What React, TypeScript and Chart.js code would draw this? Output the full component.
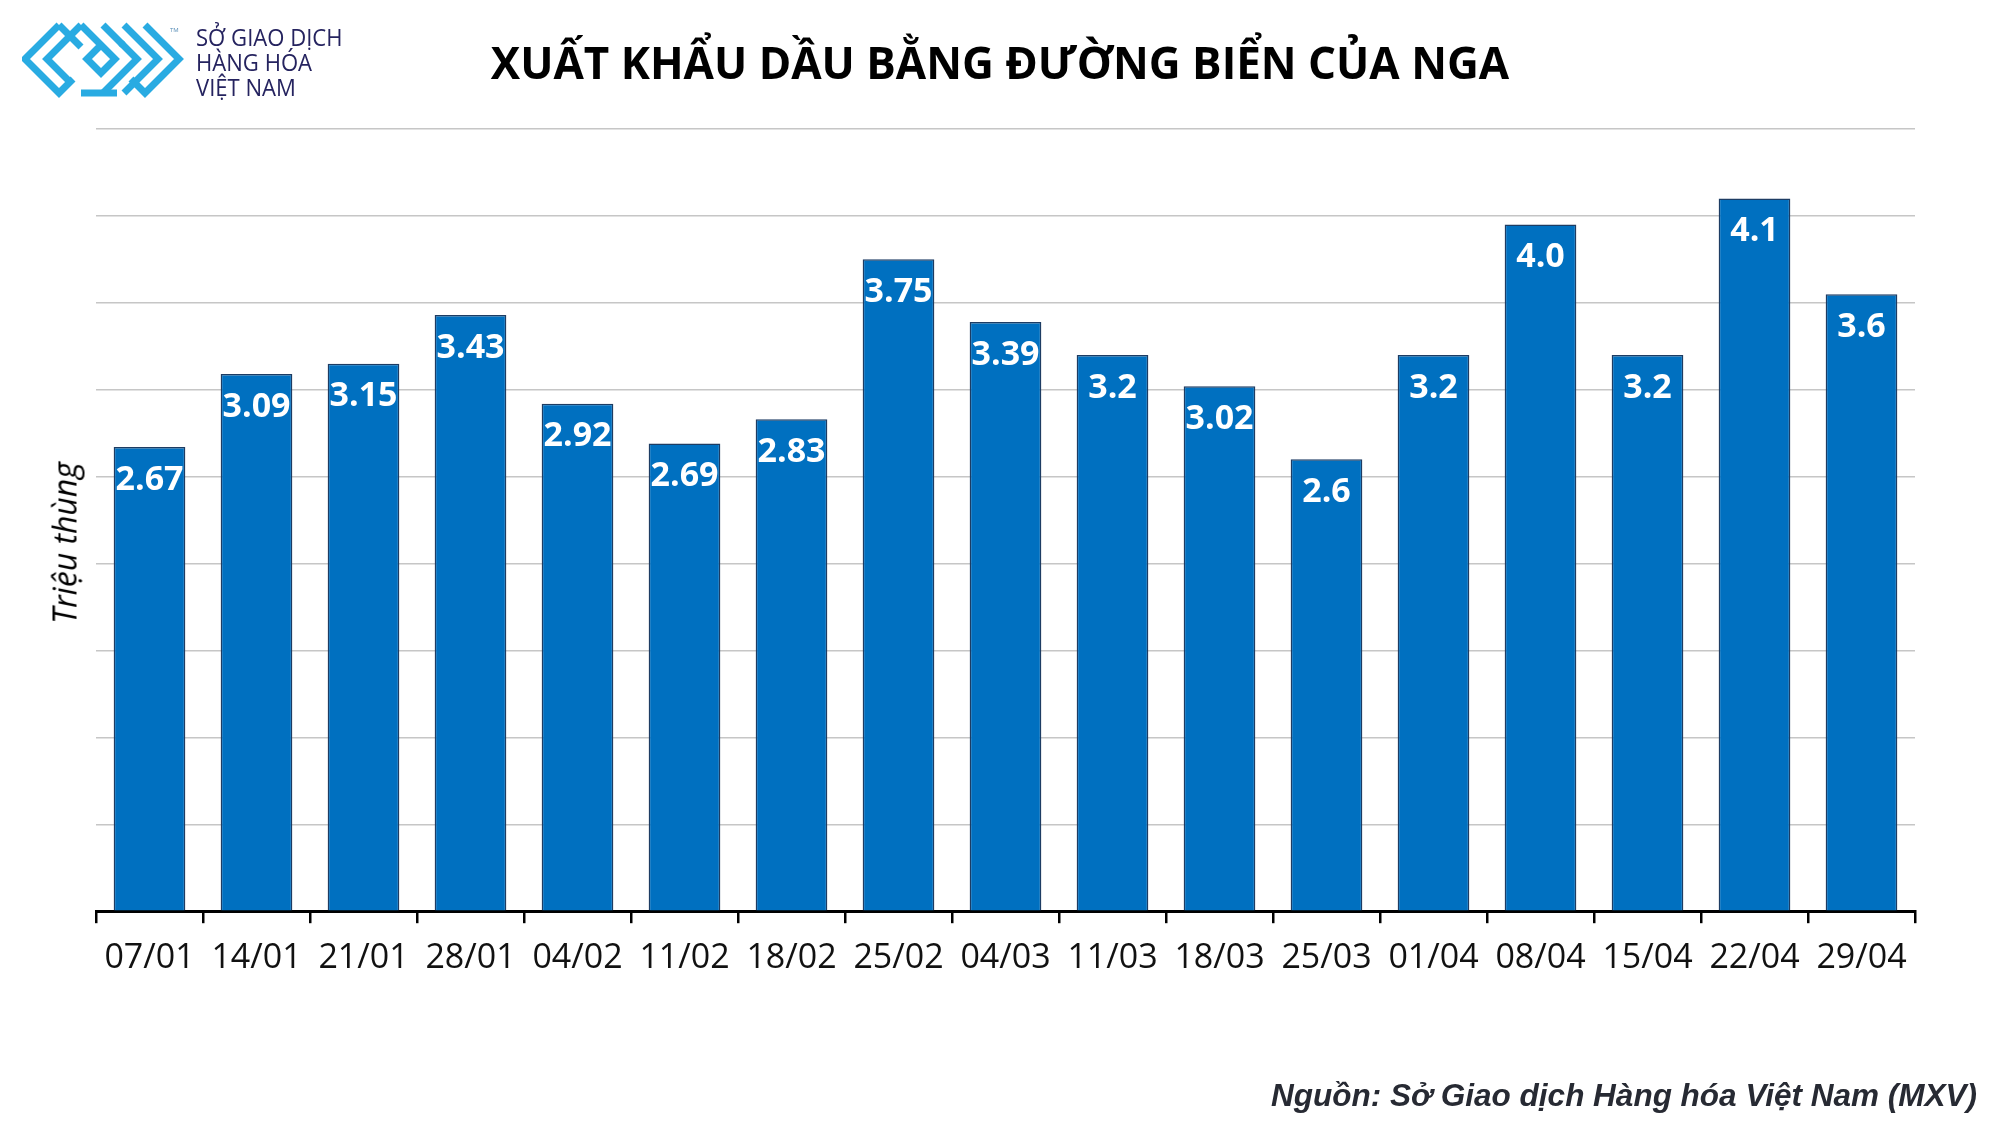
import React, { useEffect, useRef } from "react";
import { Chart, registerables } from "chart.js";

Chart.register(...registerables);

const categories = ["07/01", "14/01", "21/01", "28/01", "04/02", "11/02", "18/02", "25/02", "04/03", "11/03", "18/03", "25/03", "01/04", "08/04", "15/04", "22/04", "29/04"];
const values = [2.67, 3.09, 3.15, 3.43, 2.92, 2.69, 2.83, 3.75, 3.39, 3.2, 3.02, 2.6, 3.2, 3.95, 3.2, 4.1, 3.55];
const valueLabels = ["2.67", "3.09", "3.15", "3.43", "2.92", "2.69", "2.83", "3.75", "3.39", "3.2", "3.02", "2.6", "3.2", "4.0", "3.2", "4.1", "3.6"];
const yMin = 0;
const yMax = 4.5;
const yStep = 0.5;

const titleText = "XUẤT KHẨU DẦU BẰNG ĐƯỜNG BIỂN CỦA NGA";
const yTitleText = "Triệu thùng";
const sourceText = "Nguồn: Sở Giao dịch Hàng hóa Việt Nam (MXV)";
const logoLines = ["SỞ GIAO DỊCH", "HÀNG HÓA", "VIỆT NAM"];

const valueLabelPlugin = {
  id: "valueLabels",
  afterDatasetsDraw(chart: any) {
    const ctx = chart.ctx;
    const meta = chart.getDatasetMeta(0);
    ctx.save();
    ctx.fillStyle = "#ffffff";
    ctx.font = "bold 34px 'Open Sans'";
    ctx.textAlign = "center";
    ctx.textBaseline = "middle";
    meta.data.forEach((bar: any, i: number) => {
      ctx.fillText(valueLabels[i], bar.x, bar.y + 33);
    });
    ctx.restore();
  },
};

export default function App() {
  const canvasRef = useRef<HTMLCanvasElement | null>(null);

  useEffect(() => {
    if (!canvasRef.current) return;
    const chart = new Chart(canvasRef.current, {
      type: "bar",
      data: {
        labels: categories,
        datasets: [
          {
            data: values,
            backgroundColor: "#0070C0",
            borderColor: "#1d3c63",
            borderWidth: 1.5,
            borderSkipped: "bottom",
            barPercentage: 0.67,
            categoryPercentage: 1,
          },
        ],
      },
      options: {
        responsive: false,
        animation: false,
        layout: { padding: { left: 96, right: 85, top: 129, bottom: 131 } },
        plugins: {
          legend: { display: false },
          tooltip: { enabled: false },
          title: { display: false },
        },
        scales: {
          x: {
            grid: {
              display: true,
              drawOnChartArea: false,
              drawTicks: true,
              tickLength: 12,
              color: "#000000",
              lineWidth: 2.5,
              offset: true,
            },
            border: { display: true, color: "#000000", width: 3 },
            ticks: {
              color: "#111111",
              padding: 15,
              font: { family: "'Open Sans'", size: 34, weight: "normal" },
              maxRotation: 0,
              autoSkip: false,
            },
          },
          y: {
            min: yMin,
            max: yMax,
            ticks: { display: false, stepSize: yStep },
            grid: { color: "#c6c6c6", lineWidth: 1.5, drawTicks: false },
            border: { display: false },
            afterFit: (s: any) => {
              s.width = 0;
            },
          },
        },
      },
      plugins: [valueLabelPlugin],
    });
    return () => chart.destroy();
  }, []);

  return (
    <div style={{ position: "absolute", left: 0, top: 0, width: 2000, height: 1125, background: "#ffffff", overflow: "hidden" }}>
      <canvas ref={canvasRef} width={2000} height={1125} style={{ position: "absolute", left: 0, top: 0, width: 2000, height: 1125 }} />
      <svg style={{ position: "absolute", left: 22, top: 22 }} width={162} height={78} viewBox="0 0 162 78">
        <g fill="none" stroke="#29ABE2" strokeWidth={7} strokeLinejoin="miter" strokeLinecap="butt">
          <path d="M37,3 L3,37 L37,71 L51,57" />
          <path d="M37,3 L59,25" />
          <path d="M59,3 L25,37 L47,59" />
          <path d="M59,3 L93,37 L79,51 L65,37 L79,23" />
          <path d="M81,3 L101,23" />
          <path d="M102,3 L136,37 L102,71" />
          <path d="M123,3 L157,37 L123,71 L109,57" />
          <path d="M81,71 L115,37 L99,21" />
          <path d="M59,71 L95,71" />
        </g>
        <text x={148} y={10} fontSize={6} fill="#5a8fb8" fontFamily="Open Sans">TM</text>
      </svg>
      <div
        style={{
          position: "absolute",
          left: 196,
          top: 24,
          fontFamily: "'Open Sans'",
          fontSize: 24,
          lineHeight: "25px",
          color: "#25235f",
          transform: "scaleX(0.92)",
          transformOrigin: "left top",
          whiteSpace: "nowrap",
        }}
      >
        {logoLines.map((l, i) => (
          <div key={i}>{l}</div>
        ))}
      </div>
      <div
        style={{
          position: "absolute",
          left: 0,
          width: 2000,
          top: 32,
          textAlign: "center",
          fontFamily: "'Open Sans'",
          fontWeight: 700,
          fontSize: 44,
          lineHeight: "normal",
          color: "#000000",
          whiteSpace: "nowrap",
        }}
      >
        {titleText}
      </div>
      <div
        style={{
          position: "absolute",
          left: 64,
          top: 543,
          transform: "translate(-50%, -50%) rotate(-90deg)",
          fontFamily: "'Open Sans'",
          fontStyle: "italic",
          fontSize: 32,
          color: "#000000",
          whiteSpace: "nowrap",
        }}
      >
        {yTitleText}
      </div>
      <div
        style={{
          position: "absolute",
          right: 23,
          top: 1077,
          fontFamily: "'Liberation Sans', Arial, sans-serif",
          fontWeight: 700,
          fontStyle: "italic",
          fontSize: 31.5,
          lineHeight: "normal",
          color: "#272a33",
          whiteSpace: "nowrap",
        }}
      >
        {sourceText}
      </div>
    </div>
  );
}
